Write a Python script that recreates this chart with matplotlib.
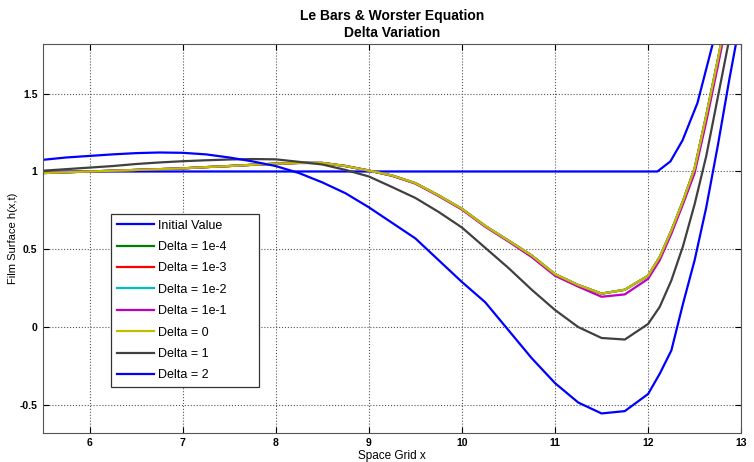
import matplotlib.pyplot as plt

# Datos
x = [5.5, 5.75, 6.0, 6.25, 6.5, 6.75, 7.0, 7.25, 7.5, 7.75, 8.0, 8.25, 8.5, 8.75,
     9.0, 9.25, 9.5, 9.75, 10.0, 10.25, 10.5, 10.75, 11.0, 11.25, 11.5, 11.75,
     12.0, 12.125, 12.25, 12.375, 12.5, 12.625, 12.75, 12.875, 13.0]

x_init = [5.5, 12.0, 12.1, 12.24, 12.37, 12.53, 12.69, 12.85]
h_init = [1.0, 1.0, 1.0, 1.065, 1.2, 1.44, 1.81, 2.2]

h_d0 = [0.99, 0.995, 1.0, 1.005, 1.01, 1.015, 1.02, 1.028, 1.035, 1.043, 1.05, 1.055,
        1.055, 1.035, 1.006, 0.974, 0.925, 0.846, 0.76, 0.65, 0.556, 0.46, 0.34, 0.27,
        0.215, 0.24, 0.33, 0.45, 0.62, 0.81, 1.02, 1.36, 1.72, 2.1, 2.5]
h_1em4 = h_d0
h_1em3 = h_d0
h_1em2 = h_d0
h_1em1 = [0.99, 0.995, 1.0, 1.005, 1.01, 1.015, 1.02, 1.028, 1.035, 1.043, 1.05, 1.055,
          1.055, 1.035, 1.006, 0.972, 0.922, 0.842, 0.755, 0.645, 0.55, 0.45, 0.33, 0.26,
          0.195, 0.21, 0.31, 0.43, 0.60, 0.79, 0.99, 1.32, 1.68, 2.05, 2.45]
h_d1 = [1.005, 1.015, 1.025, 1.035, 1.048, 1.058, 1.066, 1.072, 1.077, 1.08, 1.078, 1.062,
        1.045, 1.01, 0.968, 0.9, 0.83, 0.74, 0.64, 0.51, 0.38, 0.24, 0.11, 0.0,
        -0.07, -0.08, 0.02, 0.13, 0.30, 0.52, 0.79, 1.10, 1.48, 1.86, 2.25]
h_d2 = [1.075, 1.09, 1.10, 1.11, 1.118, 1.122, 1.12, 1.11, 1.09, 1.065, 1.035, 0.99,
        0.93, 0.86, 0.77, 0.67, 0.57, 0.43, 0.29, 0.16, -0.02, -0.2, -0.36, -0.485,
        -0.555, -0.54, -0.43, -0.30, -0.15, 0.15, 0.43, 0.77, 1.17, 1.6, 2.0]

series = [
    (x_init, h_init, 'Initial Value', '#0000ff'),
    (x, h_1em4, 'Delta = 1e-4', '#008000'),
    (x, h_1em3, 'Delta = 1e-3', '#ff0000'),
    (x, h_1em2, 'Delta = 1e-2', '#00bfbf'),
    (x, h_1em1, 'Delta = 1e-1', '#bf00bf'),
    (x, h_d0, 'Delta = 0', '#bfbf00'),
    (x, h_d1, 'Delta = 1', '#404040'),
    (x, h_d2, 'Delta = 2', '#0000ff'),
]

plt.rcParams['font.family'] = ['Liberation Sans', 'DejaVu Sans']

fig = plt.figure(figsize=(7.54, 4.62), dpi=100)
ax = fig.add_axes([0.057, 0.063, 0.926, 0.842])

for xs, ys, lab, col in series:
    ax.plot(xs, ys, color=col, linewidth=1.6, label=lab)

ax.set_xlim(5.5, 13)
ax.set_ylim(-0.68, 1.82)
ax.set_xticks([6, 7, 8, 9, 10, 11, 12, 13])
ax.set_yticks([-0.5, 0, 0.5, 1, 1.5])
ax.set_yticklabels(['-0.5', '0', '0.5', '1', '1.5'])
ax.grid(True, linestyle=':', color='#555555', linewidth=0.8)
ax.tick_params(direction='in', top=True, right=True, length=4, labelsize=7.5, pad=4)
for lbl in ax.get_xticklabels() + ax.get_yticklabels():
    lbl.set_fontweight('bold')
for sp in ax.spines.values():
    sp.set_color('#555555')

ax.set_title('Le Bars & Worster Equation\nDelta Variation',
             fontweight='bold', fontsize=10, pad=5, linespacing=1.25)
ax.set_xlabel('Space Grid x', fontsize=8.5, labelpad=1)
ax.set_ylabel('Film Surface h(x,t)', fontsize=8, labelpad=1)

# leyenda con el ancho de la caja original
leg = ax.legend(loc='lower left', bbox_to_anchor=(0.0974, 0.118, 0.212, 0.44),
                mode='expand', fontsize=9,
                handlelength=3.0, handletextpad=0.3, labelspacing=0.75,
                borderpad=0.45, borderaxespad=0,
                fancybox=False, edgecolor='#333333', framealpha=1)
leg.get_frame().set_linewidth(0.9)

plt.savefig('out.png', dpi=100)
